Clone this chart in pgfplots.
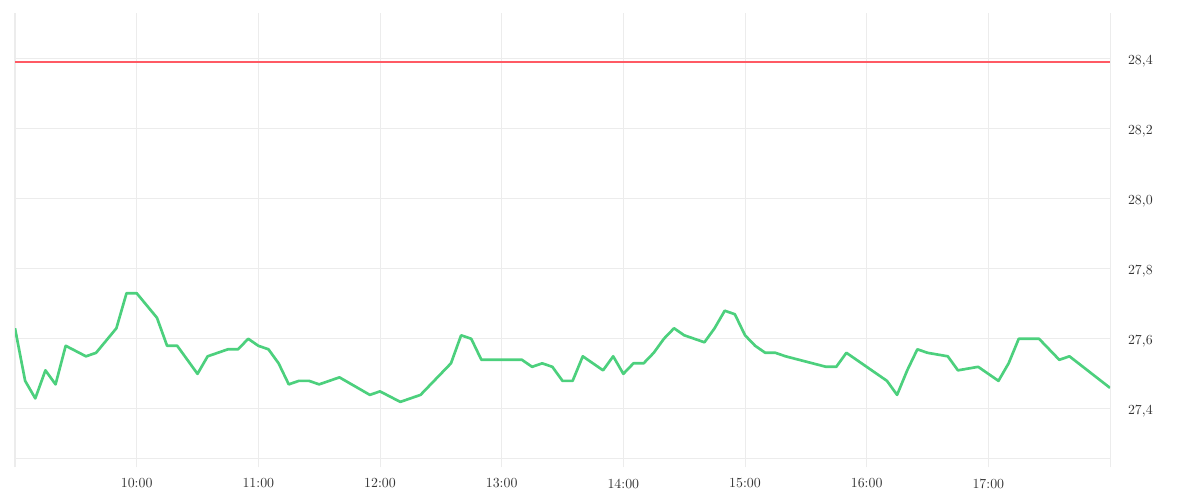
\documentclass[border=0pt]{standalone}
\usepackage{pgfplots}
\pgfplotsset{compat=1.18}
\definecolor{linegreen}{RGB}{76,208,125}
\definecolor{refred}{RGB}{255,90,100}
\definecolor{gridc}{RGB}{236,236,236}
\definecolor{txt}{RGB}{51,51,51}
\begin{document}
\begin{tikzpicture}
\path[use as bounding box] (-11.25pt,-31.5pt) rectangle (888.75pt,343.5pt);
\begin{axis}[
  at={(0,0)}, anchor=south west,
  scale only axis, width=821.25pt, height=334pt,
  xmin=0, xmax=540, ymin=27.26, ymax=28.53,
  axis line style={draw=none},
  xtick={0,60,120,180,240,300,360,420,480,540},
  xticklabels={,10:00,11:00,12:00,13:00,14:00,15:00,16:00,17:00,},
  ytick={27.4,27.6,27.8,28.0,28.2,28.4},
  yticklabels={{27,4},{27,6},{27,8},{28,0},{28,2},{28,4}},
  xtick pos=bottom,
  yticklabel pos=right,
  tick align=outside,
  major tick length=7pt,
  xtick style={draw=gridc, line width=0.75pt},
  ytick style={draw=none},
  grid=major, major grid style={draw=gridc, line width=0.75pt},
  tick label style={font=\fontsize{10.4}{12}\selectfont},
  xticklabel style={text=txt, yshift=-5pt},
  yticklabel style={text=txt, yshift=-2pt, xshift=3pt},
]
\addplot[draw=gridc, line width=0.75pt, forget plot] coordinates {(0,27.26) (540,27.26)};
\addplot[color=refred, line width=1.6pt, forget plot] coordinates {(0,28.39) (540,28.39)};
\addplot[color=linegreen, solid, line width=2pt, line join=round] coordinates {
(0,27.63) (5,27.48) (10,27.43) (15,27.51) (20,27.47) (25,27.58) (35,27.55)
(40,27.56) (50,27.63) (55,27.73) (60,27.73) (70,27.66) (75,27.58) (80,27.58)
(90,27.50) (95,27.55) (100,27.56) (105,27.57) (110,27.57) (115,27.60)
(120,27.58) (125,27.57) (130,27.53) (135,27.47) (140,27.48) (145,27.48)
(150,27.47) (160,27.49) (175,27.44) (180,27.45) (190,27.42) (200,27.44)
(215,27.53) (220,27.61) (225,27.60) (230,27.54) (250,27.54) (255,27.52)
(260,27.53) (265,27.52) (270,27.48) (275,27.48) (280,27.55) (290,27.51)
(295,27.55) (300,27.50) (305,27.53) (310,27.53) (315,27.56) (320,27.60)
(325,27.63) (330,27.61) (340,27.59) (345,27.63) (350,27.68) (355,27.67)
(360,27.61) (365,27.58) (370,27.56) (375,27.56) (380,27.55) (400,27.52)
(405,27.52) (410,27.56) (430,27.48) (435,27.44) (440,27.51) (445,27.57)
(450,27.56) (460,27.55) (465,27.51) (475,27.52) (485,27.48) (490,27.53)
(495,27.60) (505,27.60) (515,27.54) (520,27.55) (540,27.46)
};
\end{axis}
\end{tikzpicture}
\end{document}
